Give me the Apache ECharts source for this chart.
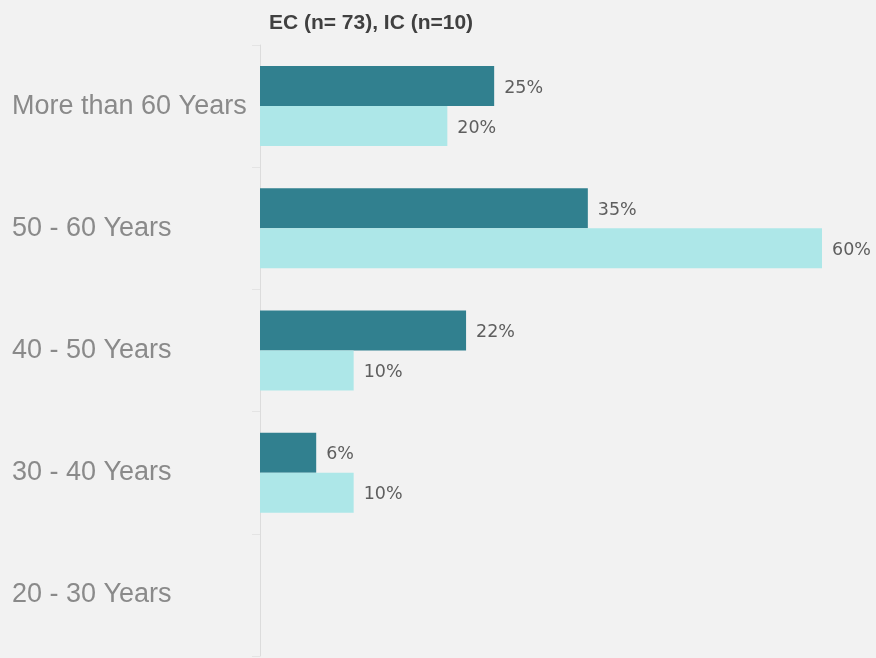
<!DOCTYPE html>
<html>
<head>
<meta charset="utf-8">
<script src="https://cdn.jsdelivr.net/npm/echarts@6/dist/echarts.min.js"></script>
<style>
  html, body { margin: 0; padding: 0; background: #f2f2f2; }
  #chart { width: 876px; height: 658px; }
</style>
</head>
<body>
<div id="chart"></div>
<script>
// Age groups, listed top to bottom
const categories = ['More than 60 Years', '50 - 60 Years', '40 - 50 Years', '30 - 40 Years', '20 - 30 Years'];
// Share of respondents per age group (%)
const ecValues = [25, 35, 22, 6, null];
const icValues = [20, 60, 10, 10, null];
const titleText = 'EC (n= 73), IC (n=10)';

const chart = echarts.init(document.getElementById('chart'), null, { renderer: 'canvas' });

const valueLabel = {
  show: true,
  position: 'right',
  distance: 10,
  offset: [0, 2],
  color: '#5e5e5e',
  fontFamily: 'DejaVu Sans, Verdana, sans-serif',
  fontSize: 17.5,
  formatter: p => p.value + '%'
};

chart.setOption({
  backgroundColor: '#f2f2f2',
  animation: false,
  title: {
    text: titleText,
    left: 366,
    textAlign: 'center',
    top: 8,
    textStyle: {
      fontFamily: 'Liberation Sans, Arial, sans-serif',
      fontWeight: 'bold',
      fontSize: 21,
      color: '#404040'
    }
  },
  grid: { left: 260, right: 54, top: 45, bottom: 2 },
  xAxis: {
    type: 'value',
    min: 0,
    max: 60,
    show: false
  },
  yAxis: {
    type: 'category',
    data: categories,
    inverse: true,
    axisLine: { show: true, lineStyle: { color: '#dcdcdc', width: 1 } },
    axisTick: { show: true, length: 8, lineStyle: { color: '#e4e4e4' } },
    axisLabel: {
      align: 'left',
      margin: 248,
      padding: [6, 0, 0, 0],
      color: '#8a8a8a',
      fontFamily: 'Liberation Sans, Arial, sans-serif',
      fontSize: 27
    },
    splitLine: { show: false }
  },
  series: [
    {
      name: 'EC',
      type: 'bar',
      data: ecValues,
      barWidth: 40,
      barGap: '0%',
      itemStyle: { color: '#31808f' },
      label: valueLabel
    },
    {
      name: 'IC',
      type: 'bar',
      data: icValues,
      barWidth: 40,
      barGap: '0%',
      itemStyle: { color: '#ade7e8' },
      label: valueLabel
    }
  ]
});
</script>
</body>
</html>
